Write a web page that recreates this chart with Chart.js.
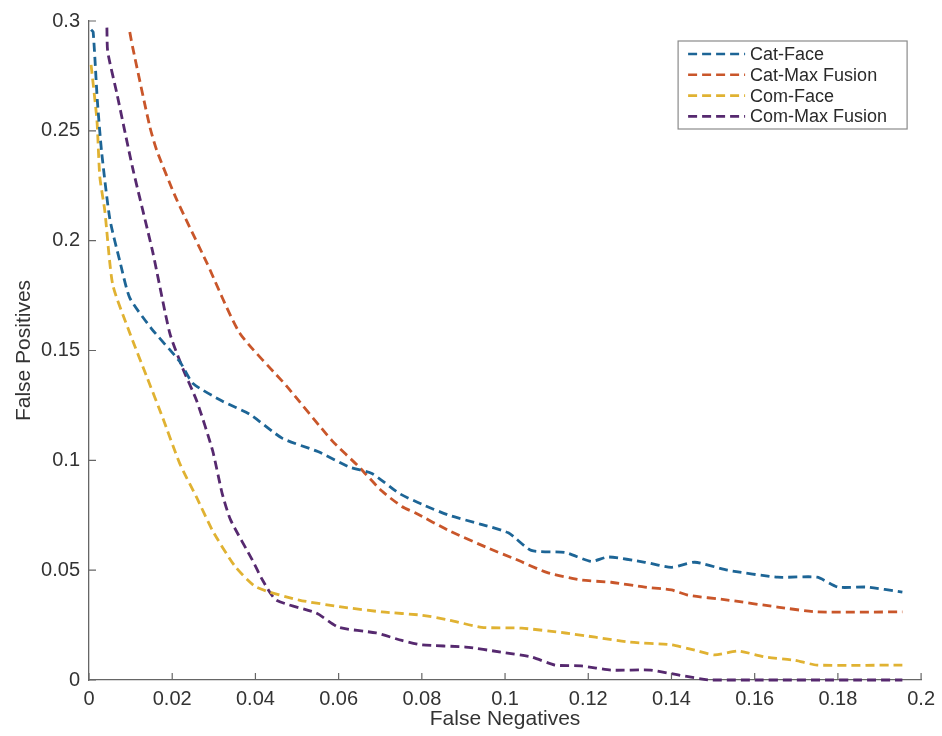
<!DOCTYPE html>
<html>
<head>
<meta charset="utf-8">
<script src="https://cdn.jsdelivr.net/npm/chart.js@4.4.1/dist/chart.umd.min.js"></script>
<style>
    html, body { margin: 0; padding: 0; background: #fff; }
    #wrap { width: 942px; height: 736px; }
</style>
</head>
<body>
<div id="wrap"><canvas id="rocChart" width="942" height="736"></canvas></div>
<script>
/* ================= DATA ================= */
const seriesNames = ["Cat-Face", "Cat-Max Fusion", "Com-Face", "Com-Max Fusion"];

const catFaceX = [0.0005, 0.001, 0.002, 0.003, 0.005, 0.0075, 0.0098, 0.015, 0.0218, 0.025, 0.032, 0.0386, 0.0465, 0.055, 0.0625, 0.068, 0.0745, 0.08, 0.0865, 0.094, 0.1008, 0.1063, 0.1145, 0.1207, 0.1248, 0.1336, 0.140, 0.1456, 0.1535, 0.1655, 0.175, 0.18, 0.187, 0.1955];
const catFaceY = [0.296, 0.295, 0.264, 0.241, 0.21, 0.19, 0.174, 0.16, 0.145, 0.135, 0.127, 0.121, 0.110, 0.104, 0.097, 0.094, 0.085, 0.080, 0.075, 0.071, 0.067, 0.059, 0.058, 0.054, 0.056, 0.0536, 0.0513, 0.0536, 0.050, 0.0468, 0.0468, 0.0423, 0.0423, 0.040];

const catMaxX = [0.0098, 0.0105, 0.0146, 0.0163, 0.021, 0.0283, 0.0362, 0.0474, 0.0584, 0.0649, 0.0704, 0.0752, 0.0785, 0.0865, 0.096, 0.1025, 0.110, 0.1183, 0.1255, 0.1336, 0.140, 0.144, 0.1535, 0.1655, 0.175, 0.1955];
const catMaxY = [0.295, 0.288, 0.252, 0.241, 0.219, 0.19, 0.158, 0.134, 0.109, 0.097, 0.086, 0.079, 0.076, 0.068, 0.060, 0.055, 0.049, 0.0455, 0.0445, 0.0423, 0.041, 0.0386, 0.0364, 0.0332, 0.031, 0.031];

const comFaceX = [0.0005, 0.0019, 0.0026, 0.0038, 0.0057, 0.0098, 0.0139, 0.0177, 0.0218, 0.0259, 0.0297, 0.035, 0.0402, 0.0505, 0.061, 0.0704, 0.08, 0.0865, 0.0944, 0.104, 0.1145, 0.1217, 0.1296, 0.14, 0.1456, 0.1504, 0.156, 0.1624, 0.1696, 0.175, 0.1955];
const comFaceY = [0.28, 0.255, 0.229, 0.2136, 0.18, 0.158, 0.138, 0.1195, 0.0986, 0.083, 0.068, 0.052, 0.0423, 0.0364, 0.0332, 0.031, 0.0295, 0.0273, 0.024, 0.0236, 0.0214, 0.0195, 0.0173, 0.016, 0.0136, 0.0114, 0.0132, 0.0105, 0.009, 0.0068, 0.0068];

const comMaxX = [0.0043, 0.0045, 0.0067, 0.0105, 0.0153, 0.0194, 0.0225, 0.0259, 0.0297, 0.032, 0.034, 0.0393, 0.0417, 0.045, 0.0546, 0.060, 0.069, 0.0752, 0.080, 0.0905, 0.099, 0.1063, 0.112, 0.1183, 0.1255, 0.135, 0.1416, 0.1495, 0.1955];
const comMaxY = [0.297, 0.286, 0.267, 0.233, 0.195, 0.158, 0.142, 0.127, 0.1045, 0.085, 0.073, 0.0545, 0.0455, 0.0364, 0.0305, 0.024, 0.0214, 0.018, 0.016, 0.015, 0.0127, 0.0105, 0.0068, 0.0064, 0.0045, 0.0045, 0.0023, 0, 0];

const seriesX = [catFaceX, catMaxX, comFaceX, comMaxX];
const seriesY = [catFaceY, catMaxY, comFaceY, comMaxY];
const seriesColors = ["#1d6596", "#c9562a", "#e0b232", "#56296f"];

/* ================= HELPERS ================= */
const FONT = "'Liberation Sans', Arial, Helvetica, sans-serif";
const fmt = v => String(parseFloat(Number(v).toFixed(4)));

function toPoints(xs, ys) {
    return xs.map((x, i) => ({ x: x, y: ys[i] }));
}

/* ================= INWARD TICKS (matlab style) ================= */
const innerTicks = {
    id: "innerTicks",
    afterDraw(chart) {
        const ctx = chart.ctx;
        const area = chart.chartArea;
        const xs = chart.scales.x;
        const ys = chart.scales.y;
        ctx.save();
        ctx.strokeStyle = "#666";
        ctx.lineWidth = 1.2;
        ctx.beginPath();
        xs.ticks.forEach(t => {
            const px = xs.getPixelForValue(t.value);
            ctx.moveTo(px, area.bottom);
            ctx.lineTo(px, area.bottom - 7);
        });
        ys.ticks.forEach(t => {
            const py = ys.getPixelForValue(t.value);
            ctx.moveTo(area.left, py);
            ctx.lineTo(area.left + 7, py);
        });
        ctx.stroke();
        ctx.restore();
    }
};

/* ================= LEGEND BOX ================= */
const boxLegend = {
    id: "boxLegend",
    afterDraw(chart) {
        const ctx = chart.ctx;
        const area = chart.chartArea;
        const right = area.right - 14;
        const left = right - 229;
        const top = area.top + 20;
        const h = 88;
        ctx.save();
        ctx.fillStyle = "#fff";
        ctx.fillRect(left, top, right - left, h);
        ctx.strokeStyle = "#8a8a8a";
        ctx.lineWidth = 1.2;
        ctx.strokeRect(left, top, right - left, h);

        ctx.font = "18px " + FONT;
        ctx.textBaseline = "middle";
        chart.data.datasets.forEach((ds, i) => {
            const y = top + 13 + i * 20.8;
            ctx.strokeStyle = ds.borderColor;
            ctx.lineWidth = 2.6;
            ctx.setLineDash(ds.borderDash);
            ctx.beginPath();
            ctx.moveTo(left + 10, y);
            ctx.lineTo(left + 67, y);
            ctx.stroke();
            ctx.setLineDash([]);
            ctx.fillStyle = "#2a2a2a";
            ctx.fillText(ds.label, left + 72, y + 1);
        });
        ctx.restore();
    }
};

/* ================= CHART ================= */
const datasets = seriesNames.map((name, i) => ({
    label: name,
    data: toPoints(seriesX[i], seriesY[i]),
    borderColor: seriesColors[i],
    backgroundColor: seriesColors[i],
    borderWidth: 2.8,
    borderDash: [9, 5],
    pointRadius: 0,
    showLine: true,
    tension: 0.2,
    fill: false,
    clip: false
}));

new Chart(document.getElementById("rocChart"), {
    type: "scatter",
    data: { datasets: datasets },
    options: {
        responsive: false,
        animation: false,
        devicePixelRatio: 1,
        layout: { padding: { left: 0, top: 20, right: 17, bottom: 0 } },
        plugins: {
            legend: { display: false },
            tooltip: { enabled: false }
        },
        scales: {
            x: {
                type: "linear",
                min: 0,
                max: 0.2,
                afterFit: s => { s.height = 56; },
                border: { display: true, color: "#666", width: 1.3 },
                grid: { display: true, drawOnChartArea: false, drawTicks: false },
                ticks: {
                    stepSize: 0.02,
                    padding: 7,
                    color: "#333",
                    font: { family: FONT, size: 20 },
                    maxRotation: 0,
                    callback: v => fmt(v)
                },
                title: {
                    display: true,
                    text: "False Negatives",
                    color: "#333",
                    font: { family: FONT, size: 21 },
                    padding: { top: 0, bottom: 4 }
                }
            },
            y: {
                type: "linear",
                min: 0,
                max: 0.3,
                afterFit: s => { s.width = 89; },
                border: { display: true, color: "#666", width: 1.3 },
                grid: { display: true, drawOnChartArea: false, drawTicks: false },
                ticks: {
                    stepSize: 0.05,
                    padding: 9,
                    color: "#333",
                    font: { family: FONT, size: 20 },
                    callback: v => fmt(v)
                },
                title: {
                    display: true,
                    text: "False Positives",
                    color: "#333",
                    font: { family: FONT, size: 21 },
                    padding: { top: 12, bottom: 0 }
                }
            }
        }
    },
    plugins: [innerTicks, boxLegend]
});
</script>
</body>
</html>
